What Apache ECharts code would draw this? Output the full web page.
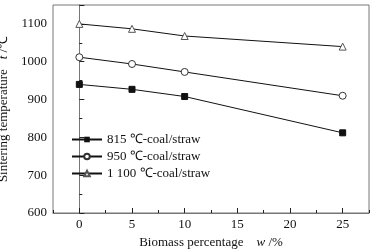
<!DOCTYPE html>
<html>
<head>
<meta charset="utf-8">
<script src="https://cdn.jsdelivr.net/npm/echarts@6/dist/echarts.min.js"></script>
<style>
	html, body { margin: 0; padding: 0; background: #fff; }
	#chart { width: 376px; height: 252px; }
</style>
</head>
<body>
<div id="chart"></div>
<script>
// 数据
var xValues = [0, 5, 10, 25];
var coal815 = [940, 927, 908, 812];
var coal950 = [1012, 994, 973, 910];
var coal1100 = [1100, 1087, 1068, 1040];
var seriesNames = ['815 \u2103-coal/straw', '950 \u2103-coal/straw', '1 100 \u2103-coal/straw'];
var xTicks = [0, 5, 10, 15, 20, 25];

function pairs(ys) {
	var out = [];
	for (var i = 0; i < xValues.length; i++) {
		out.push([xValues[i], ys[i]]);
	}
	return out;
}

var chart = echarts.init(document.getElementById('chart'));
var serif = 'Liberation Serif';
var option = {
	animation: false,
	textStyle: { fontFamily: serif },
	grid: {
		left: 53, right: 7, top: 5, bottom: 39,
		outerBoundsMode: 'none', containLabel: false,
		show: true, borderColor: '#777', borderWidth: 1
	},
	legend: {
		left: 66, top: 128, orient: 'vertical',
		itemWidth: 30, itemHeight: 7, itemGap: 4,
		textStyle: { fontFamily: serif, fontSize: 13, color: '#111' },
		data: seriesNames
	},
	xAxis: {
		// 刻度从-2.5起: axisTick落在x.5处(短), minorTick落在整5处(长)
		type: 'value', min: -2.5, max: 27.5, interval: 5,
		name: '{n|Biomass percentage}    {i|w} /%',
		nameLocation: 'middle', nameGap: 22,
		nameTextStyle: {
			fontFamily: serif, fontSize: 13, color: '#111',
			rich: {
				n: { fontFamily: serif, fontSize: 13, color: '#111' },
				i: { fontFamily: serif, fontSize: 13, fontStyle: 'italic', color: '#111' }
			}
		},
		axisLine: { lineStyle: { color: '#777' } },
		axisTick: { inside: true, length: 3, lineStyle: { color: '#222' } },
		minorTick: { show: true, splitNumber: 2, length: 5, lineStyle: { color: '#222' } },
		axisLabel: { customValues: xTicks, fontFamily: serif, fontSize: 13, color: '#111', margin: 5 },
		splitLine: { show: false }
	},
	yAxis: {
		type: 'value', min: 600, max: 1150, interval: 100,
		name: '{n|Sintering temperature}   {i|t} /\u2103',
		nameLocation: 'middle', nameGap: 38,
		nameTextStyle: {
			fontFamily: serif, fontSize: 13, color: '#111',
			rich: {
				n: { fontFamily: serif, fontSize: 13, color: '#111' },
				i: { fontFamily: serif, fontSize: 13, fontStyle: 'italic', color: '#111' }
			}
		},
		axisLine: { show: true, lineStyle: { color: '#777' } },
		axisTick: { inside: true, length: 5, lineStyle: { color: '#222' } },
		minorTick: { show: true, splitNumber: 2, length: 3, lineStyle: { color: '#222' } },
		axisLabel: {
			showMaxLabel: false, fontFamily: serif, fontSize: 13, color: '#111', margin: 6,
			formatter: function(v) { return String(v); }
		},
		splitLine: { show: false }
	},
	series: [{
		name: seriesNames[0], type: 'line', data: pairs(coal815),
		symbol: 'rect', symbolSize: 6,
		lineStyle: { color: '#111', width: 1 },
		itemStyle: { color: '#111', borderColor: '#111' }
	}, {
		name: seriesNames[1], type: 'line', data: pairs(coal950),
		symbol: 'circle', symbolSize: 7,
		lineStyle: { color: '#111', width: 1 },
		itemStyle: { color: '#fff', borderColor: '#333', borderWidth: 1 }
	}, {
		name: seriesNames[2], type: 'line', data: pairs(coal1100),
		symbol: 'triangle', symbolSize: 7,
		lineStyle: { color: '#111', width: 1 },
		itemStyle: { color: '#fff', borderColor: '#555', borderWidth: 1 }
	}]
};
chart.setOption(option);
</script>
</body>
</html>
